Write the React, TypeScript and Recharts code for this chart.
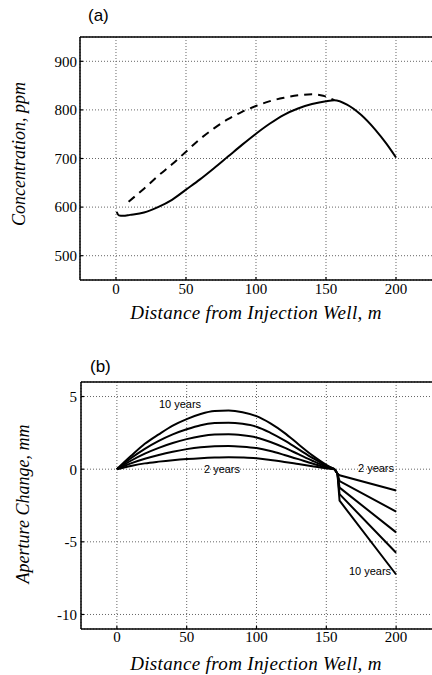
import React from 'react';
import { LineChart, Line, XAxis, YAxis, CartesianGrid, ReferenceLine } from 'recharts';

// ---- shared axis ticks ----
const xTicks = [0, 50, 100, 150, 200];
const concTicks = [500, 600, 700, 800, 900];
const apertureTicks = [-10, -5, 0, 5];

// ---- panel (a): concentration ----
const concSolidX = [0.5, 2, 5, 10, 20, 30, 40, 50, 60, 70, 80, 90, 100, 110, 120, 130, 140, 150, 156, 165, 175, 185, 193, 200];
const concSolidY = [590, 583, 582, 584, 589, 600, 615, 636, 657, 680, 704, 728, 751, 772, 790, 803, 812, 818, 820, 811, 790, 760, 731, 702];
const concDashedX = [9, 20, 30, 40, 50, 60, 70, 80, 90, 100, 110, 120, 130, 140, 148, 156];
const concDashedY = [611, 638, 664, 688, 714, 740, 762, 781, 796, 808, 818, 825, 830, 832, 829, 820];

// ---- panel (b): aperture change, upstream part (0 .. 156 m) ----
const apertureLeftX = [0, 10, 20, 30, 40, 50, 60, 70, 80, 90, 100, 110, 120, 130, 140, 150, 156];
const years2Left = [0, 0.22, 0.4, 0.52, 0.62, 0.7, 0.76, 0.8, 0.82, 0.8, 0.75, 0.63, 0.5, 0.35, 0.2, 0.06, 0];
const years4Left = [0, 0.4, 0.72, 0.98, 1.2, 1.38, 1.51, 1.58, 1.6, 1.55, 1.45, 1.25, 0.98, 0.69, 0.39, 0.12, 0];
const years6Left = [0, 0.58, 1.07, 1.47, 1.8, 2.07, 2.27, 2.38, 2.4, 2.33, 2.18, 1.87, 1.48, 1.03, 0.58, 0.18, 0];
const years8Left = [0, 0.75, 1.4, 1.95, 2.4, 2.75, 3.03, 3.17, 3.2, 3.12, 2.92, 2.5, 1.98, 1.38, 0.78, 0.25, 0];
const years10Left = [0, 0.9, 1.75, 2.4, 3.0, 3.45, 3.8, 4.0, 4.03, 3.92, 3.65, 3.15, 2.5, 1.72, 0.95, 0.3, 0];

// ---- panel (b): downstream part (156 .. 200 m) ----
const apertureRightX = [156, 158, 159.5, 200];
const years2Right = [0, -0.32, -0.42, -1.47];
const years4Right = [0, -0.32, -0.82, -2.92];
const years6Right = [0, -0.32, -1.27, -4.35];
const years8Right = [0, -0.32, -1.72, -5.75];
const years10Right = [0, -0.32, -2.17, -7.25];

const leftSeries = [years2Left, years4Left, years6Left, years8Left, years10Left];
const rightSeries = [years2Right, years4Right, years6Right, years8Right, years10Right];

const zip = (xs: number[], ys: number[]) => xs.map((x, i) => ({ x, y: ys[i] }));

const serif = "'Liberation Serif', 'Times New Roman', serif";
const sans = "'Liberation Sans', Arial, sans-serif";
const tickStyle = { fill: '#000', fontSize: 15, fontFamily: serif, style: { fontFamily: serif } };
const spine = { stroke: '#000', strokeWidth: 1.5 };
const tickMark = { stroke: '#000', strokeWidth: 1.2 };
const titleStyle = { fontFamily: serif, fontStyle: 'italic' as const, fontSize: 19, letterSpacing: 0.35 };
const yTitleStyle = { fontFamily: serif, fontStyle: 'italic' as const, fontSize: 18 };
const yearStyle = { fontFamily: sans, fontSize: 11 };

export default function App() {
  return (
    <div style={{ position: 'absolute', left: 0, top: 0, width: 432, height: 675, overflow: 'hidden', background: '#fff' }}>
      {/* Panel (a) */}
      <div style={{ position: 'absolute', left: 0, top: 0 }}>
        <LineChart width={440} height={330} margin={{ top: 37, right: 2, left: 20, bottom: 20 }}>
          <CartesianGrid stroke="#666" strokeDasharray="1 2" strokeWidth={1} />
          <XAxis dataKey="x" type="number" domain={[-25.7, 230]} ticks={xTicks} allowDataOverflow
            tickLine={tickMark} tickSize={-3} tickMargin={6} height={30} axisLine={spine} tick={tickStyle} />
          <YAxis type="number" domain={[450, 950]} ticks={concTicks} allowDataOverflow width={60}
            tickLine={tickMark} tickSize={-3} tickMargin={6} axisLine={spine} tick={tickStyle} />
          <ReferenceLine y={950} stroke="#000" strokeWidth={1.5} />
          <Line data={zip(concDashedX, concDashedY)} dataKey="y" type="monotone" stroke="#000" strokeWidth={2}
            strokeDasharray="8 6" dot={false} isAnimationActive={false} />
          <Line data={zip(concSolidX, concSolidY)} dataKey="y" type="monotone" stroke="#000" strokeWidth={2}
            dot={false} isAnimationActive={false} />
        </LineChart>
      </div>

      {/* Panel (b) */}
      <div style={{ position: 'absolute', left: 0, top: 330 }}>
        <LineChart width={440} height={345} margin={{ top: 52, right: 2, left: 21, bottom: 16 }}>
          <CartesianGrid stroke="#666" strokeDasharray="1 2" strokeWidth={1} />
          <XAxis dataKey="x" type="number" domain={[-25.7, 230]} ticks={xTicks} allowDataOverflow
            tickLine={tickMark} tickSize={-3} tickMargin={5} height={30} axisLine={spine} tick={tickStyle} />
          <YAxis type="number" domain={[-11, 6]} ticks={apertureTicks} allowDataOverflow width={60}
            tickLine={tickMark} tickSize={-3} tickMargin={7} axisLine={spine} tick={tickStyle} />
          <ReferenceLine y={6} stroke="#000" strokeWidth={1.5} />
          {leftSeries.map((ys, i) => (
            <Line key={'l' + i} data={zip(apertureLeftX, ys)} dataKey="y" type="monotone" stroke="#000" strokeWidth={2}
              dot={false} isAnimationActive={false} />
          ))}
          {rightSeries.map((ys, i) => (
            <Line key={'r' + i} data={zip(apertureRightX, ys)} dataKey="y" type="linear" stroke="#000" strokeWidth={2}
              dot={false} isAnimationActive={false} />
          ))}
        </LineChart>
      </div>

      {/* Text overlay */}
      <svg width={432} height={675} style={{ position: 'absolute', left: 0, top: 0, pointerEvents: 'none' }}>
        <text x={88} y={21} style={{ fontFamily: sans, fontSize: 17 }} fill="#000">(a)</text>
        <text x={90} y={372} style={{ fontFamily: sans, fontSize: 17 }} fill="#000">(b)</text>

        <text x={256} y={319} textAnchor="middle" style={titleStyle} fill="#000">
          Distance from Injection Well, m
        </text>
        <text x={256} y={670} textAnchor="middle" style={titleStyle} fill="#000">
          Distance from Injection Well, m
        </text>
        <text transform="translate(24.5,154) rotate(-90)" textAnchor="middle" style={yTitleStyle} fill="#000">
          Concentration, ppm
        </text>
        <text transform="translate(29,504) rotate(-90)" textAnchor="middle" style={yTitleStyle} fill="#000">
          Aperture Change, mm
        </text>

        <text x={180} y={408} textAnchor="middle" style={yearStyle} fill="#000">10 years</text>
        <text x={222} y={473} textAnchor="middle" style={yearStyle} fill="#000">2 years</text>
        <text x={376} y={472} textAnchor="middle" style={yearStyle} fill="#000">2 years</text>
        <text x={370} y={575} textAnchor="middle" style={yearStyle} fill="#000">10 years</text>
      </svg>
    </div>
  );
}
